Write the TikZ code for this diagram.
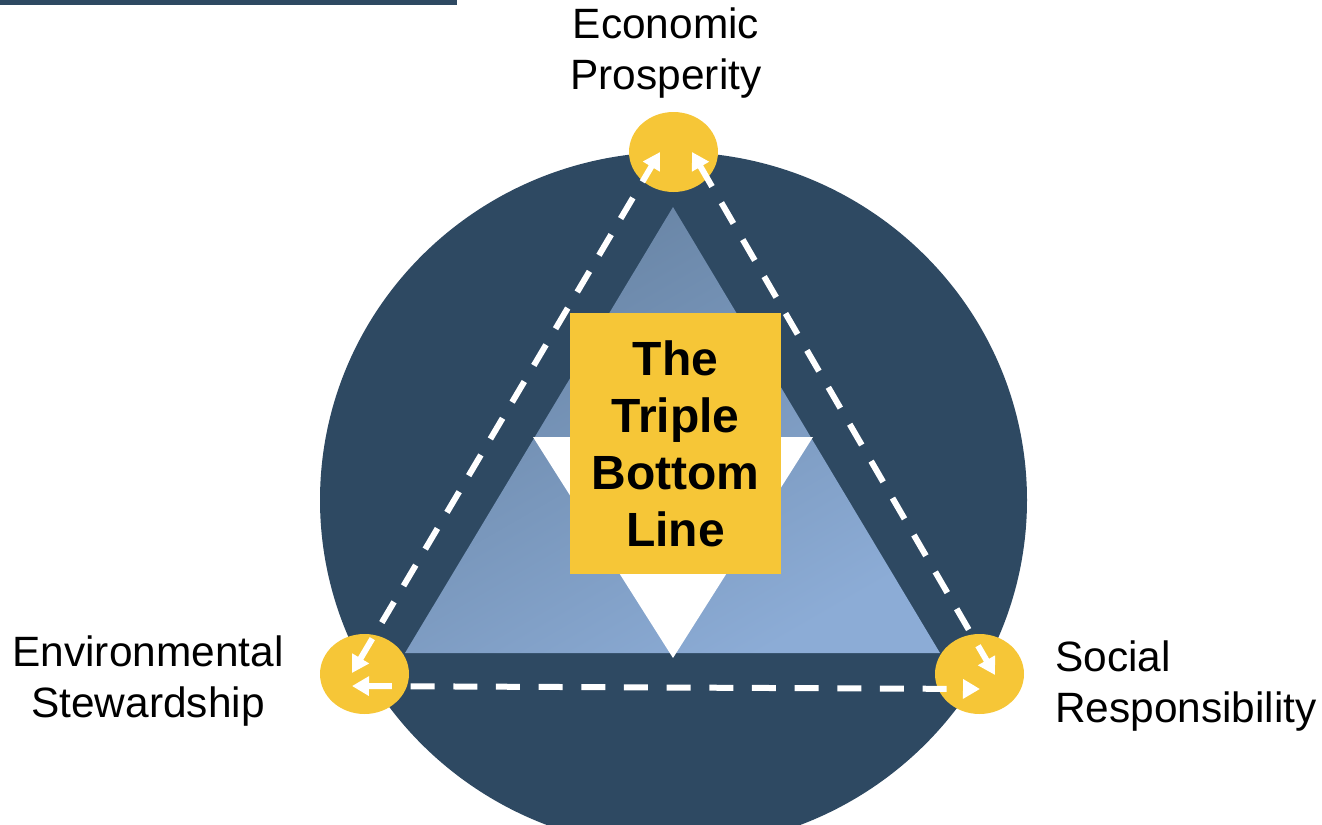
\documentclass[tikz,border=0pt]{standalone}
\usepackage{fontspec}
\setmainfont{Liberation Sans}
\usetikzlibrary{arrows.meta,shapes.geometric}
\definecolor{navy}{RGB}{46,73,98}
\definecolor{gold}{RGB}{246,198,55}
\definecolor{blueTop}{RGB}{103,131,163}
\definecolor{blueBot}{RGB}{140,172,214}

\begin{document}
\begin{tikzpicture}[x=0.75pt,y=-0.75pt,
  hub/.style={ellipse, fill=gold, minimum width=66.75pt, minimum height=60pt, inner sep=0pt},
  lbl/.style={font=\fontsize{31.8}{38}\selectfont, inner sep=0pt, text=black},
  core/.style={rectangle, fill=gold, minimum width=158.25pt, minimum height=195.75pt,
    inner sep=0pt, align=center, font=\fontsize{36}{42.75}\selectfont\bfseries},
  flow/.style={white, line width=4.5pt, dash pattern=on 18pt off 14pt,
    {Triangle[length=12.75pt,width=14pt]}-{Triangle[length=12.75pt,width=14pt]}}]

\useasboundingbox (0,0) rectangle (1322,825);
\clip (0,0) rectangle (1322,825);

% header rule
\fill[navy] (0,0) rectangle (457,5);

% backdrop disc
\fill[navy] (673.5,500) ellipse [x radius=265.125pt, y radius=261pt];

% shaded triangle with white inverted cut-out
\shade[top color=blueTop, bottom color=blueBot, shading angle=30]
  (673,207) -- (940,653) -- (405,653) -- cycle;
\fill[white] (533,437) -- (813,437) -- (673,658) -- cycle;

% pillars
\node[hub] (eco) at (673.5,152) {};
\node[hub] (env) at (364.5,674) {};
\node[hub] (soc) at (979.5,674) {};

% centre box
\node[core] (tbl) at (675.5,443.5) {The\\Triple\\Bottom\\Line};

% captions
\node[lbl, align=center] (ecoT) at (666,53) {Economic\\Prosperity};
\node[lbl, align=center] (envT) at (148,681) {Environmental\\Stewardship};
\node[lbl, align=left, anchor=west] (socT) at (1055,686) {Social\\Responsibility};

% arrow end points inside the pillars
\coordinate (ecoL) at (660,152);
\coordinate (ecoR) at (692,152);
\coordinate (envU) at (352,673);
\coordinate (envB) at (352,686);
\coordinate (socU) at (995,675);
\coordinate (socB) at (980,689);

% dashed two-way links
\draw[flow] (envU) -- (ecoL);
\draw[flow] (ecoR) -- (socU);
\draw[flow] (envB) -- (socB);
\end{tikzpicture}
\end{document}
